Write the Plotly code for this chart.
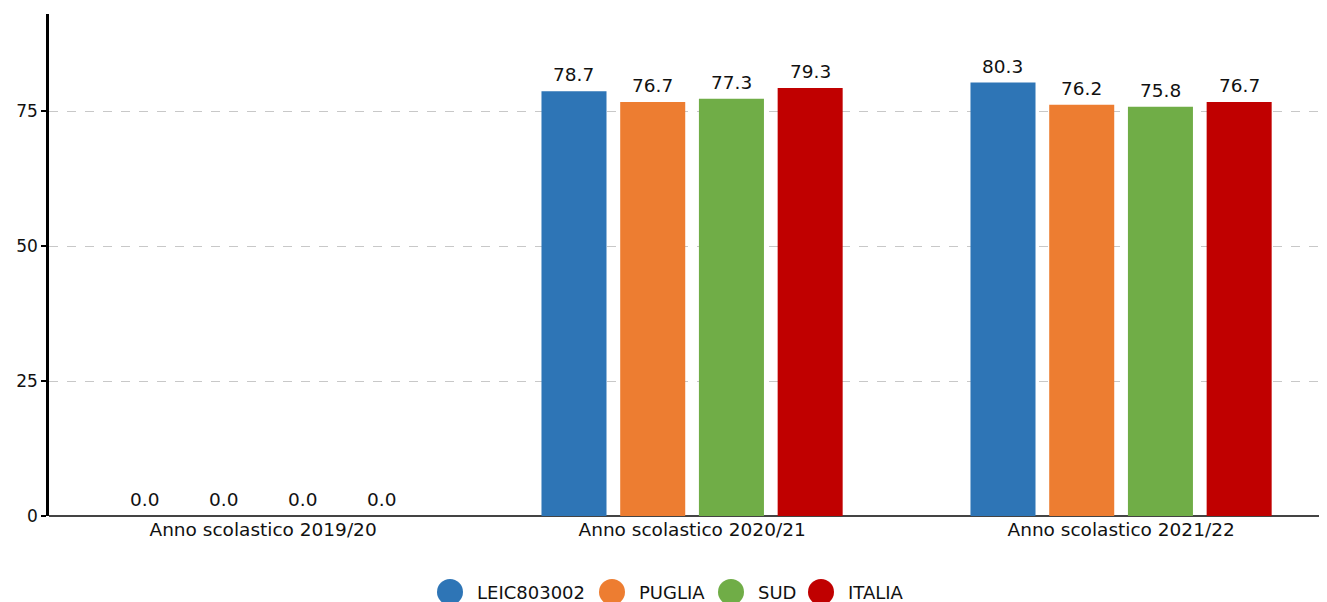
import plotly.graph_objects as go

categories = ["Anno scolastico 2019/20", "Anno scolastico 2020/21", "Anno scolastico 2021/22"]
series_names = ["LEIC803002", "PUGLIA", "SUD", "ITALIA"]
leic = [0.0, 78.7, 80.3]
puglia = [0.0, 76.7, 76.2]
sud = [0.0, 77.3, 75.8]
italia = [0.0, 79.3, 76.7]
colors = ["#2E75B6", "#ED7D31", "#70AD47", "#C00000"]

FONT = "DejaVu Sans"

# layout geometry (figure pixels; page body adds an 8px offset)
PAGE_OFF = 8
W, H = 1319, 594
ML, MR, MT, MB = 41, 0, 6, 86
PW, PH = W - ML - MR, H - MT - MB
XR = [-0.499, 2.48]
BARGAP, GROUPGAP = 0.266, 0.174
cat_px = PW / (XR[1] - XR[0])
slot_px = cat_px * (1 - BARGAP) / len(series_names)

# legend layout (page pixels where each legend label starts)
legend_text_x = [475, 637, 756, 846]
legend_y = 592

def px2paper_x(px):
    return (px - PAGE_OFF - ML) / PW

def px2paper_y(py):
    return (H - MB - (py - PAGE_OFF)) / PH

series = [leic, puglia, sud, italia]
fig = go.Figure()
annotations = []
shapes = []
for i, (name, vals, col) in enumerate(zip(series_names, series, colors)):
    fig.add_trace(go.Bar(
        x=categories, y=vals, name=name, marker_color=col, showlegend=False,
        marker_line_width=0,
    ))
    for c, v in zip(categories, vals):
        annotations.append(dict(
            x=c, y=v, xref="x", yref="y", text=f"{v:.1f}", showarrow=False,
            yanchor="bottom", xanchor="center",
            xshift=(i - (len(series_names) - 1) / 2) * slot_px, yshift=4,
            font=dict(size=18.5, family=FONT, color="#111"),
        ))
    # custom circular legend
    tx = legend_text_x[i]
    r = 13
    shapes.append(dict(
        type="circle", xref="paper", yref="paper",
        x0=px2paper_x(tx - 38), x1=px2paper_x(tx - 12),
        y0=px2paper_y(legend_y + r), y1=px2paper_y(legend_y - r),
        fillcolor=col, line=dict(width=0),
    ))
    annotations.append(dict(
        x=px2paper_x(tx), y=px2paper_y(legend_y), xref="paper", yref="paper",
        text=name, showarrow=False, xanchor="left", yanchor="middle",
        font=dict(size=18, family=FONT, color="#111"),
    ))

fig.update_layout(
    width=W, height=H,
    margin=dict(l=ML, r=MR, t=MT, b=MB, autoexpand=False),
    plot_bgcolor="white", paper_bgcolor="white",
    barmode="group", bargap=BARGAP, bargroupgap=GROUPGAP,
    font=dict(family=FONT, size=17, color="#111"),
    showlegend=False,
    annotations=annotations, shapes=shapes,
    xaxis=dict(range=XR, showgrid=False, showline=False, ticks="",
               tickfont=dict(size=18.5), automargin=False),
    yaxis=dict(range=[0, 93], tickvals=[0, 25, 50, 75], showgrid=True,
               gridcolor="#c8c8c8", griddash="dash", gridwidth=1,
               showline=True, linecolor="black", linewidth=2.5,
               ticks="outside", ticklen=5, tickwidth=2, tickcolor="black",
               zeroline=True, zerolinecolor="#444", zerolinewidth=2,
               tickfont=dict(size=17), automargin=False),
)
fig.write_html("out.html")
